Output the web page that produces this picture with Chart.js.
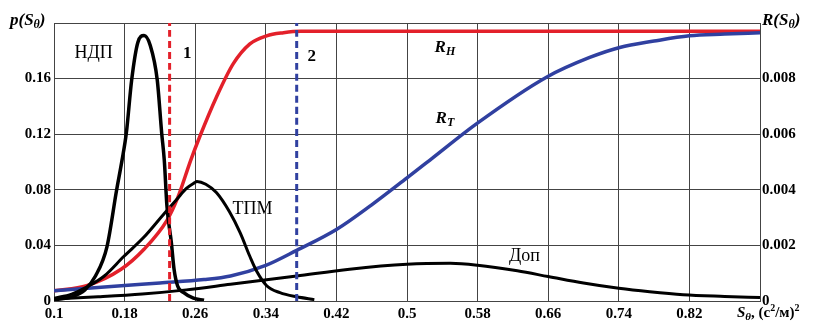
<!DOCTYPE html>
<html><head><meta charset="utf-8">
<script src="https://cdn.jsdelivr.net/npm/chart.js@4/dist/chart.umd.min.js"></script>
<style>html,body{margin:0;padding:0;background:#fff}#wrap{width:813px;height:324px;position:relative}</style>
</head><body><div id="wrap"><canvas id="c" width="813" height="324"></canvas></div>
<script>
// ---- data ----
const xTicks = [0.1, 0.18, 0.26, 0.34, 0.42, 0.5, 0.58, 0.66, 0.74, 0.82, 0.9];
const pTicks = [0, 0.04, 0.08, 0.12, 0.16, 0.2];
const rTicks = [0, 0.002, 0.004, 0.006, 0.008, 0.01];

// НДП density (left axis)
const ndpS = [0.1, 0.12, 0.135, 0.147, 0.16, 0.171, 0.177, 0.182, 0.188, 0.195, 0.202, 0.209, 0.217, 0.222, 0.225, 0.228, 0.233, 0.236, 0.24, 0.247, 0.258, 0.27];
const ndpP = [0.001, 0.003, 0.008, 0.018, 0.039, 0.080, 0.101, 0.121, 0.159, 0.186, 0.191, 0.184, 0.159, 0.121, 0.101, 0.068, 0.042, 0.023, 0.011, 0.006, 0.002, 0.0005];
// ТПМ density (left axis)
const tpmS = [0.1, 0.12, 0.137, 0.157, 0.179, 0.202, 0.225, 0.239, 0.25, 0.259, 0.262, 0.272, 0.284, 0.299, 0.311, 0.322, 0.33, 0.341, 0.356, 0.375, 0.395];
const tpmP = [0.002, 0.005, 0.010, 0.018, 0.032, 0.046, 0.063, 0.073, 0.081, 0.085, 0.086, 0.084, 0.078, 0.064, 0.049, 0.032, 0.021, 0.011, 0.006, 0.003, 0.001];
// Доп density (left axis)
const dopS = [0.1, 0.15, 0.2, 0.25, 0.3, 0.375, 0.435, 0.5, 0.549, 0.58, 0.625, 0.66, 0.7, 0.74, 0.775, 0.813, 0.86, 0.9];
const dopP = [0.0014, 0.003, 0.005, 0.008, 0.012, 0.018, 0.0229, 0.0264, 0.0271, 0.0257, 0.0217, 0.0176, 0.0129, 0.0091, 0.0066, 0.0045, 0.0033, 0.0025];
// R_H (right axis)
const rhS = [0.1, 0.137, 0.176, 0.202, 0.228, 0.24, 0.255, 0.265, 0.284, 0.303, 0.322, 0.341, 0.36, 0.38, 0.9];
const rhR = [0.00037, 0.00055, 0.00114, 0.00186, 0.0029, 0.0037, 0.00507, 0.0059, 0.00733, 0.00853, 0.00925, 0.00954, 0.00965, 0.0097, 0.0097];
// R_T (right axis)
const rtS = [0.1, 0.18, 0.22, 0.27, 0.3, 0.34, 0.375, 0.42, 0.46, 0.5, 0.526, 0.579, 0.658, 0.707, 0.741, 0.78, 0.82, 0.86, 0.9];
const rtR = [0.00037, 0.00056, 0.00065, 0.00077, 0.0009, 0.00128, 0.00182, 0.00257, 0.00346, 0.00443, 0.00507, 0.00638, 0.00805, 0.00876, 0.00912, 0.00935, 0.00954, 0.0096, 0.00965];
// threshold lines 1 and 2
const thr1 = 0.231;
const thr2 = 0.375;

const pts = (xs, ys) => xs.map((x, i) => ({x: x, y: ys[i]}));

const RED = '#e3202a', BLUE = '#3040a0', BLK = '#000';
const F = 'Liberation Serif, Times New Roman, serif';

function drawRich(ctx, parts, x, y, align) {
  let w = 0;
  parts.forEach(p => { ctx.font = p.f; w += ctx.measureText(p.t).width; });
  let cx = align === 'center' ? x - w / 2 : (align === 'right' ? x - w : x);
  ctx.textAlign = 'left';
  parts.forEach(p => {
    ctx.font = p.f;
    ctx.fillText(p.t, cx, y + (p.dy || 0));
    cx += ctx.measureText(p.t).width;
  });
}

const BI17 = 'italic bold 17px ' + F, BI12 = 'italic bold 12px ' + F;
const R18 = '18px ' + F, B17 = 'bold 17px ' + F;
const B15 = 'bold 15px ' + F, BI15 = 'italic bold 15px ' + F, B10 = 'bold 10px ' + F, BI11 = 'italic bold 11px ' + F;

const annots = [
  {parts: [{t: 'НДП', f: R18}], s: 0.145, p: 0.178},
  {parts: [{t: '1', f: B17}], s: 0.251, p: 0.178},
  {parts: [{t: '2', f: B17}], s: 0.392, p: 0.176},
  {parts: [{t: 'R', f: BI17}, {t: 'H', f: BI12, dy: 4}], s: 0.543, p: 0.182},
  {parts: [{t: 'R', f: BI17}, {t: 'T', f: BI12, dy: 4}], s: 0.543, p: 0.131},
  {parts: [{t: 'ТПМ', f: R18}], s: 0.325, p: 0.066},
  {parts: [{t: 'Доп', f: R18}], s: 0.633, p: 0.032}
];

const textPlugin = {
  id: 'texts',
  afterDraw(chart) {
    const ctx = chart.ctx, xs = chart.scales.x, ys = chart.scales.y, ca = chart.chartArea;
    ctx.save();
    ctx.fillStyle = '#000';
    ctx.textBaseline = 'middle';
    annots.forEach(a => drawRich(ctx, a.parts, xs.getPixelForValue(a.s), ys.getPixelForValue(a.p), 'center'));
    ctx.textBaseline = 'alphabetic';
    drawRich(ctx, [{t: 'p(S', f: BI17}, {t: 'θ', f: BI12, dy: 3}, {t: ')', f: BI17}], 10, ca.top + 2, 'left');
    drawRich(ctx, [{t: 'R(S', f: BI17}, {t: 'θ', f: BI12, dy: 3}, {t: ')', f: BI17}], ca.right + 2, ca.top + 2, 'left');
    drawRich(ctx, [{t: 'S', f: BI15}, {t: 'θ', f: BI11, dy: 3}, {t: ', (c', f: B15}, {t: '2', f: B10, dy: -6}, {t: '/м)', f: B15}, {t: '2', f: B10, dy: -6}], ca.right - 23, 317, 'left');
    ctx.restore();
  }
};

const fmt = v => String(Number(v.toFixed(3)));

new Chart(document.getElementById('c'), {
  type: 'line',
  data: {
    datasets: [
      {data: [{x: thr1, y: 0}, {x: thr1, y: 0.2}], borderColor: RED, borderWidth: 3, borderDash: [7, 4], yAxisID: 'y'},
      {data: [{x: thr2, y: 0}, {x: thr2, y: 0.2}], borderColor: BLUE, borderWidth: 3, borderDash: [7, 4], yAxisID: 'y'},
      {data: pts(dopS, dopP), borderColor: BLK, borderWidth: 3, yAxisID: 'y'},
      {data: pts(tpmS, tpmP), borderColor: BLK, borderWidth: 3, yAxisID: 'y'},
      {data: pts(ndpS, ndpP), borderColor: BLK, borderWidth: 3.5, yAxisID: 'y'},
      {data: pts(rtS, rtR), borderColor: BLUE, borderWidth: 3.5, yAxisID: 'y2'},
      {data: pts(rhS, rhR), borderColor: RED, borderWidth: 3.5, yAxisID: 'y2'}
    ]
  },
  options: {
    responsive: false,
    animation: false,
    events: [],
    layout: {padding: {top: 23, left: 0, right: 0, bottom: 0}},
    elements: {point: {radius: 0}, line: {cubicInterpolationMode: 'monotone', fill: false, borderCapStyle: 'butt'}},
    plugins: {legend: {display: false}, tooltip: {enabled: false}},
    scales: {
      x: {
        type: 'linear', min: 0.1, max: 0.9,
        afterBuildTicks: s => { s.ticks = xTicks.map(v => ({value: v})); },
        afterFit: s => { s.height = 23; },
        grid: {color: '#444', lineWidth: 1, drawTicks: false},
        border: {display: true, color: '#444', width: 1},
        ticks: {color: '#000', font: {family: F, size: 15, weight: 'bold'}, padding: 4, maxRotation: 0, autoSkip: false,
          callback: v => (v >= 0.899 ? '' : fmt(v))}
      },
      y: {
        position: 'left', min: 0, max: 0.2,
        afterBuildTicks: s => { s.ticks = pTicks.map(v => ({value: v})); },
        afterFit: s => { s.width = 54; },
        grid: {color: '#444', lineWidth: 1, drawTicks: false},
        border: {display: true, color: '#444', width: 1},
        ticks: {color: '#000', font: {family: F, size: 15, weight: 'bold'}, padding: 3,
          callback: v => (v >= 0.199 ? '' : fmt(v))}
      },
      y2: {
        position: 'right', min: 0, max: 0.01,
        afterBuildTicks: s => { s.ticks = rTicks.map(v => ({value: v})); },
        afterFit: s => { s.width = 53; },
        grid: {display: false, drawTicks: false},
        border: {display: true, color: '#444', width: 1},
        ticks: {color: '#000', font: {family: F, size: 15, weight: 'bold'}, padding: 2,
          callback: v => (v >= 0.0099 ? '' : fmt(v))}
      }
    }
  },
  plugins: [textPlugin]
});
</script></body></html>
